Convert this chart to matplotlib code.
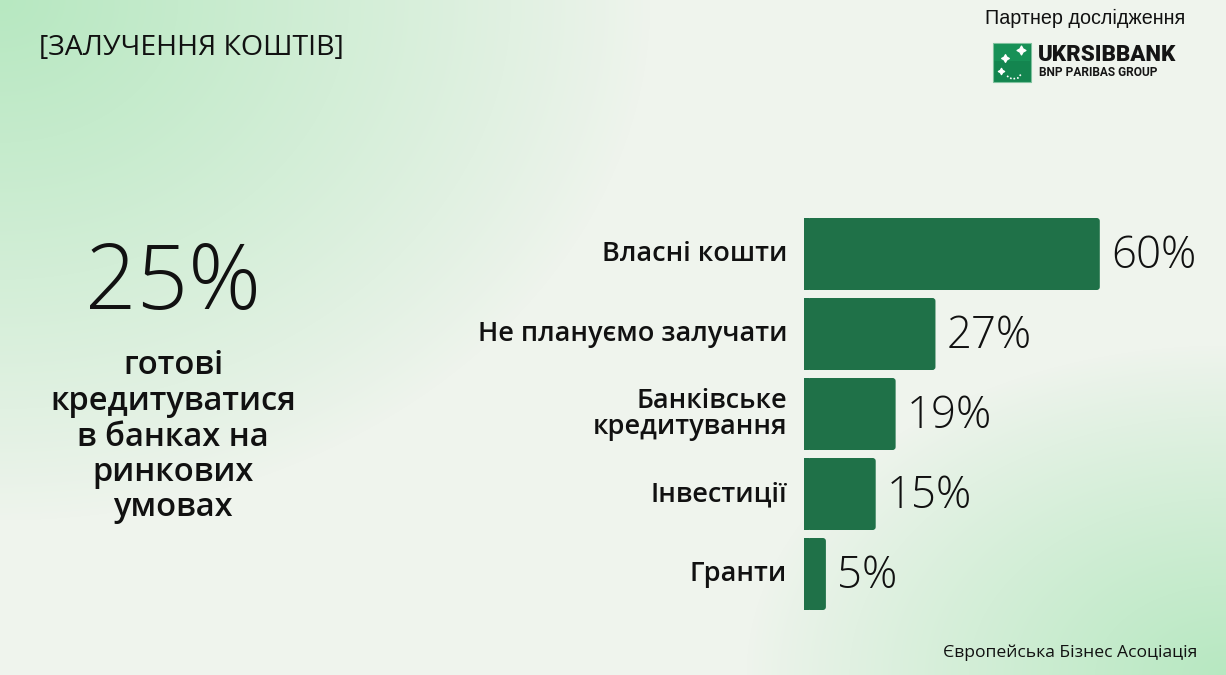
import numpy as np
import matplotlib.pyplot as plt
from matplotlib.patches import FancyBboxPatch, Rectangle

categories = ['Власні кошти', 'Не плануємо залучати', 'Банківське\nкредитування', 'Інвестиції', 'Гранти']
values = [60, 27, 19, 15, 5]
value_labels = ['60%', '27%', '19%', '15%', '5%']
headline = '25%'
headline_text = 'готові\nкредитуватися\nв банках на\nринкових\nумовах'

W, H = 1226, 675
bar_color = '#1f7148'
text_color = '#111111'

fig = plt.figure(figsize=(W / 100, H / 100), dpi=100)

# background gradient: green in top-left and bottom-right corners
bg = fig.add_axes([0, 0, 1, 1])
yy, xx = np.mgrid[0:H, 0:W]
d1 = np.sqrt((xx / 650.0) ** 2 + (yy / 520.0) ** 2)
d2 = np.sqrt(((W - xx) / 480.0) ** 2 + ((H - yy) / 330.0) ** 2)
w = np.clip(np.maximum(1 - d1, 1 - d2), 0, 1) ** 0.9
pale = np.array([239, 244, 237]) / 255
green = np.array([183, 232, 193]) / 255
img = pale[None, None, :] * (1 - w[..., None]) + green[None, None, :] * w[..., None]
bg.imshow(img, extent=[0, W, H, 0], aspect='auto')
bg.set_xlim(0, W)
bg.set_ylim(H, 0)
bg.axis('off')

# bar axes, placed in pixel units
px_per_unit = 4.98
left_px, top_px, bottom_px = 804, 214, 614
ax = fig.add_axes([left_px / W, (H - bottom_px) / H, (W - left_px) / W, (bottom_px - top_px) / H])
ax.set_xlim(0, (W - left_px) / px_per_unit)
ax.set_ylim(len(values) - 0.5, -0.5)
ax.axis('off')

bar_h = 0.9
r_x = 3 / px_per_unit
for i, (v, lab) in enumerate(zip(values, value_labels)):
    box = FancyBboxPatch((r_x, i - bar_h / 2), v - 2 * r_x, bar_h,
                         boxstyle=f'round,pad=0,rounding_size={r_x}',
                         mutation_aspect=px_per_unit / 80,
                         fc=bar_color, ec='none')
    ax.add_patch(box)
    ax.add_patch(Rectangle((0, i - bar_h / 2), r_x * 1.5, bar_h, fc=bar_color, ec='none'))
    ax.text(v + 8 / px_per_unit, i + 0.03, lab, va='center', ha='left', fontsize=31.5,
            family='Open Sans', fontweight='light', color=text_color)

for i, c in enumerate(categories):
    bg.text(787, 254 + i * 80, c, ha='right', va='center', fontsize=19.5,
            family='Open Sans', fontweight='semibold', color=text_color, linespacing=0.95)

# left headline
bg.text(173, 286, headline, ha='center', va='center', fontsize=65, family='Open Sans',
        fontweight='light', color=text_color)
bg.text(173, 437, headline_text, ha='center', va='center', fontsize=23.5,
        family='Open Sans', fontweight='semibold', color=text_color, linespacing=1.1)

# title and footer
bg.text(39, 48, '[ЗАЛУЧЕННЯ КОШТІВ]', ha='left', va='center', fontsize=20.5,
        family='Open Sans', color=text_color)
bg.text(1197, 653, 'Європейська Бізнес Асоціація', ha='right', va='center', fontsize=12.6,
        family='Open Sans', color=text_color)

# partner block
bg.text(1185, 18, 'Партнер дослідження', ha='right', va='center', fontsize=14.2,
        family='Liberation Sans', color=text_color)
bg.add_patch(Rectangle((993, 43), 38, 39, fc='#13854f', ec='#7fc29e', lw=0.8))
bg.add_patch(Rectangle((994, 44), 36, 17, fc='#1a9a5d', ec='none', alpha=0.6))
for sx, sy, s in [(1021, 50, 40), (1005, 58, 30), (1001, 71, 20)]:
    bg.scatter([sx], [sy], marker=(4, 1, 0), s=s, color='white', zorder=5)
bg.plot([1007, 1012, 1018, 1022], [76, 79, 78, 73], color='white', lw=1.2, ls=(0, (1, 1.2)))
bg.text(1038, 55, 'UKRSIBBANK', ha='left', va='center', fontsize=16,
        family='Roboto', fontweight='black', color='#151515')
bg.text(1039, 73, 'BNP PARIBAS GROUP', ha='left', va='center', fontsize=8.6,
        family='Roboto', fontweight='bold', color='#151515')

fig.savefig('out.png', dpi=100)
